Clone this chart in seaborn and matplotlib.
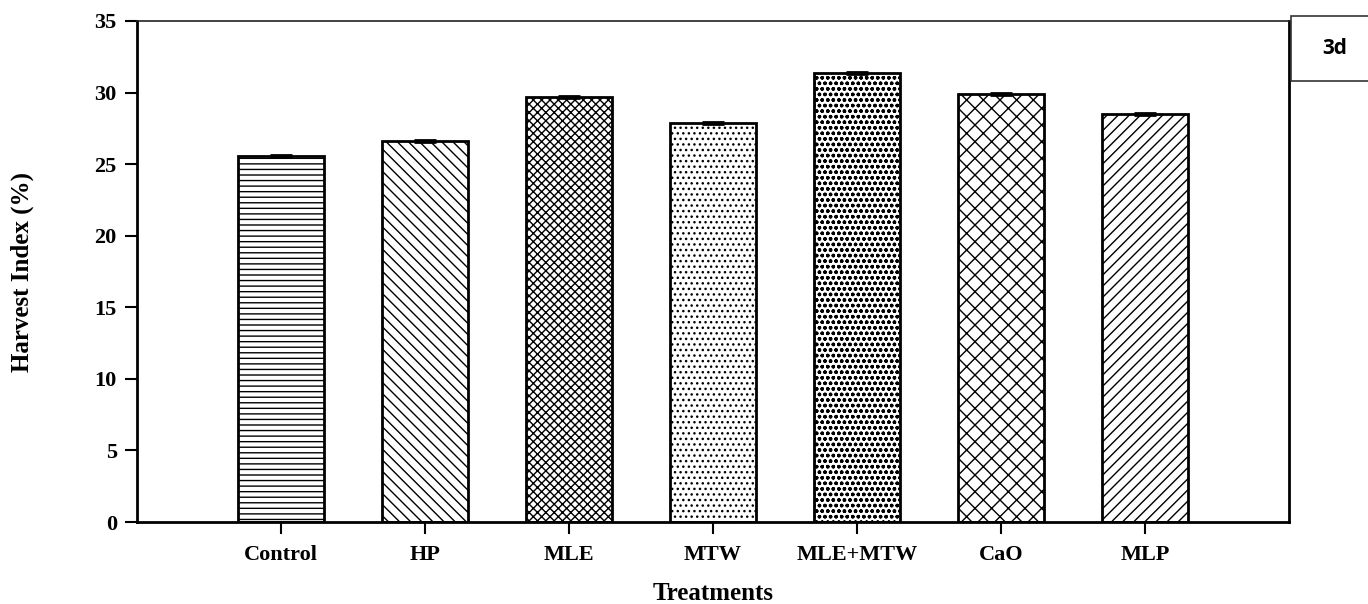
import numpy as np
import pandas as pd
import matplotlib
matplotlib.use("Agg")
import matplotlib.pyplot as plt
import seaborn as sns
from matplotlib.patches import Rectangle

# data
treatments = ["Control", "HP", "MLE", "MTW", "MLE+MTW", "CaO", "MLP"]
harvest_index = [25.55, 26.6, 29.7, 27.85, 31.35, 29.9, 28.5]
std_err = [0.08, 0.08, 0.08, 0.08, 0.08, 0.08, 0.08]
hatches = ["---", "\\\\\\", "xxxx", "...", "ooo", "xx", "///"]

sns.set_theme(style="white")
plt.rcParams["font.family"] = ["Liberation Serif", "DejaVu Serif"]
plt.rcParams["hatch.linewidth"] = 1.0
plt.rcParams["hatch.color"] = "black"
plt.rcParams["text.color"] = "black"
plt.rcParams["axes.labelcolor"] = "black"
plt.rcParams["xtick.color"] = "black"
plt.rcParams["ytick.color"] = "black"

df = pd.DataFrame({"treatment": treatments, "hi": harvest_index})

fig = plt.figure(figsize=(13.68, 6.04), dpi=100)
ax = fig.add_axes([137 / 1368, 1 - 522 / 604, (1289 - 137) / 1368, (522 - 21) / 604])

sns.barplot(data=df, x="treatment", y="hi", color="white", edgecolor="black",
            linewidth=2, width=0.6, errorbar=None, ax=ax, saturation=1)
for bar, h in zip(ax.patches, hatches):
    bar.set_hatch(h)
    bar.set_facecolor("white")

ax.errorbar(range(len(treatments)), harvest_index, yerr=std_err, fmt="none",
            ecolor="black", elinewidth=1.5, capsize=8, capthick=2)

ax.set_xlim(-1, 7)
ax.set_ylim(0, 35)
ax.set_yticks(np.arange(0, 36, 5))
ax.tick_params(axis="both", direction="out", length=8.5, width=1.5, color="black",
               labelcolor="black", left=True, bottom=True, labelsize=16)
for lab in ax.get_xticklabels() + ax.get_yticklabels():
    lab.set_fontweight("bold")
ax.tick_params(axis="x", pad=8)
ax.tick_params(axis="y", pad=6)

for side in ["left", "right", "bottom"]:
    ax.spines[side].set_linewidth(2)
    ax.spines[side].set_color("black")
ax.spines["top"].set_linewidth(1.2)
ax.spines["top"].set_color("#222222")

ax.set_xlabel("Treatments", fontsize=18, fontweight="bold", color="black")
ax.xaxis.set_label_coords(0.5, -(594 - 522) / 501)
ax.xaxis.label.set_va("center")
ax.set_ylabel("Harvest Index (%)", fontsize=18, fontweight="bold", color="black")
ax.yaxis.set_label_coords(-(137 - 22) / 1152, 0.5)
ax.yaxis.label.set_va("center")

# panel tag box
fig.patches.append(Rectangle((1291 / 1368, 1 - 81 / 604), 0.1, 65 / 604,
                             transform=fig.transFigure, fill=False,
                             edgecolor="#333333", linewidth=1.2))
fig.text(1335 / 1368, 1 - 48 / 604, "3d", fontsize=15, fontweight="bold",
         family=["Open Sans", "DejaVu Sans"], ha="center", va="center")

fig.savefig("out.png", dpi=100)
